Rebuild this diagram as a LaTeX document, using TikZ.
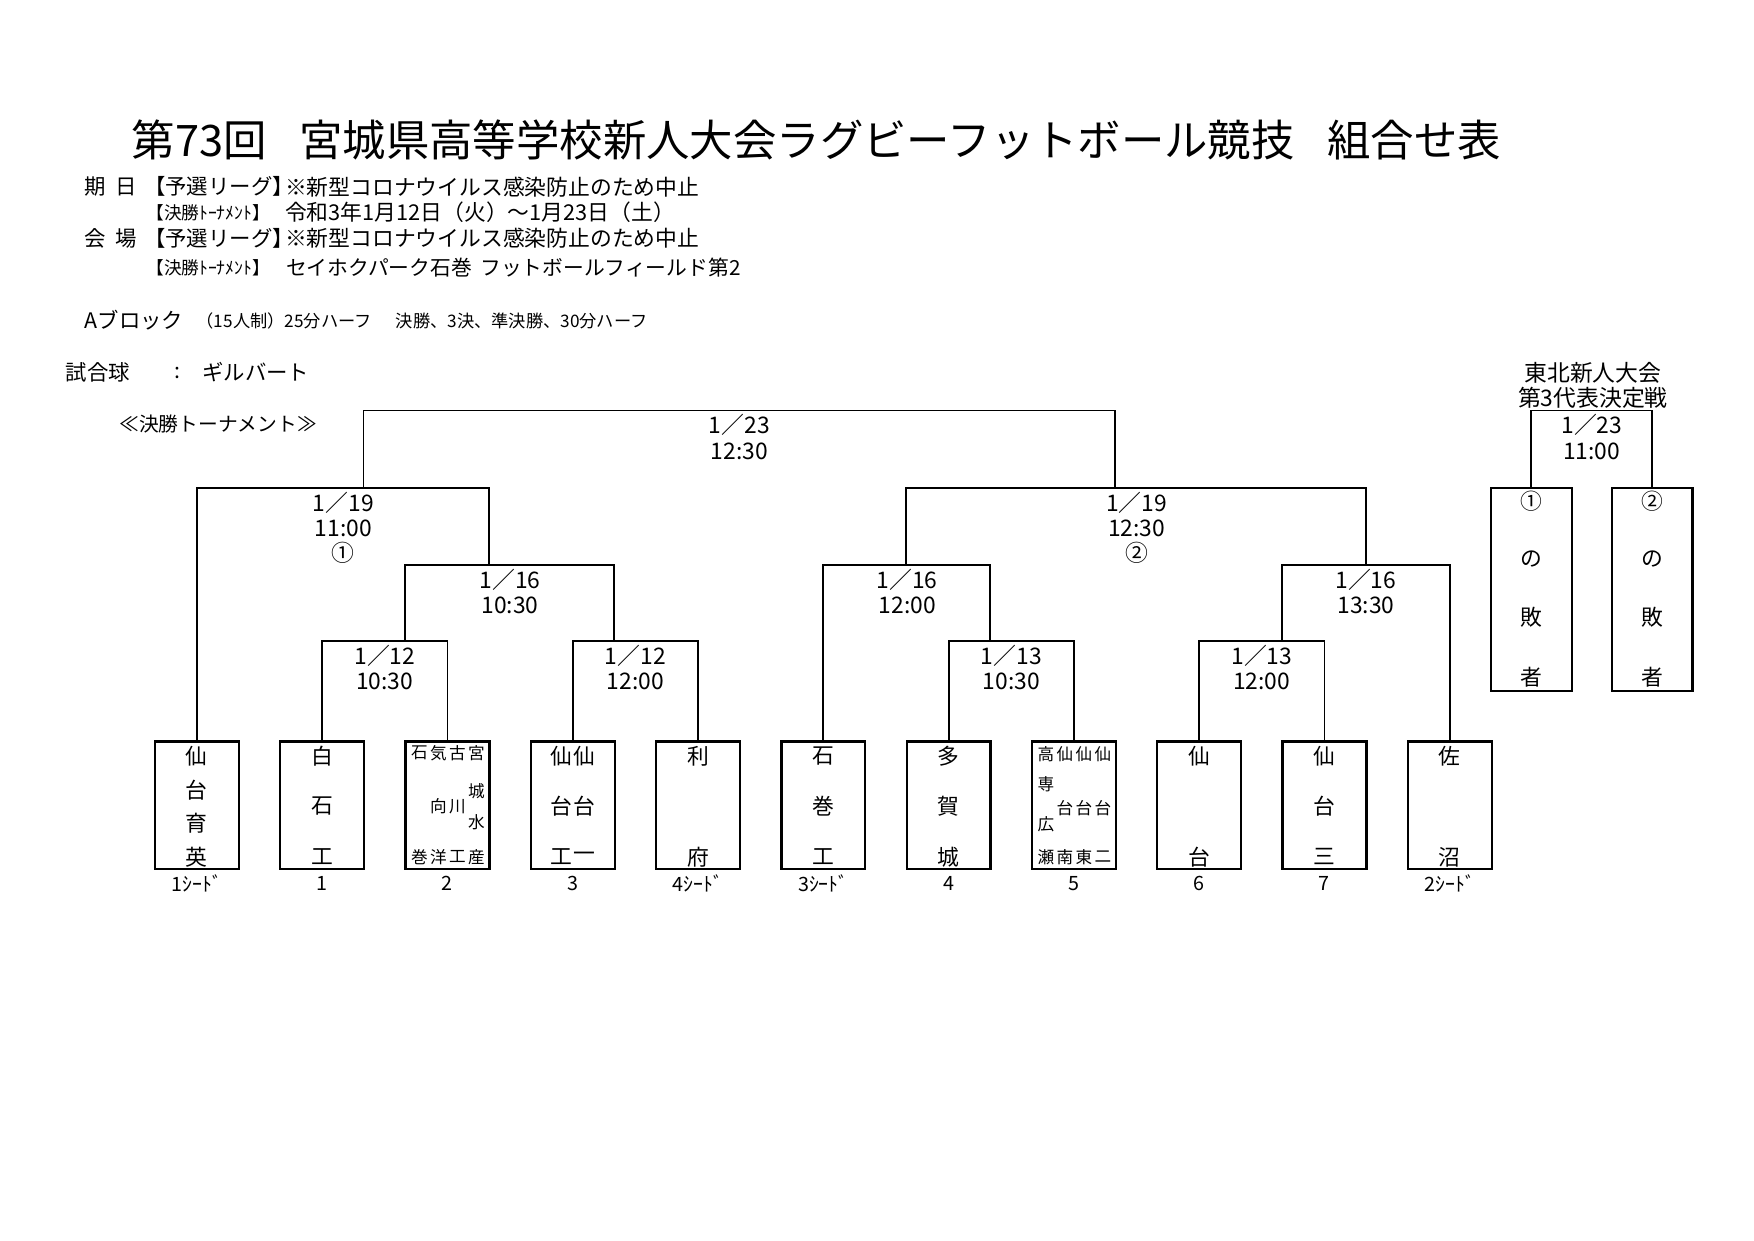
\documentclass[tikz,border=0pt]{standalone}
\usepackage{fontspec}
\setmainfont{Noto Sans CJK JP}

\tikzset{
  team/.style={draw,line width=1.1pt,minimum width=1.42cm,minimum height=2.16cm,inner sep=0pt},
  loser/.style={draw,line width=1.1pt,minimum width=1.364cm,minimum height=3.447cm,inner sep=0pt},
  game/.style={anchor=north,align=center,inner sep=1.5pt,font=\fontsize{11}{12.2}\selectfont},
  ch/.style={inner sep=0pt,font=\fontsize{10.5}{12}\selectfont},
  chs/.style={inner sep=0pt,font=\fontsize{8}{9}\selectfont},
  txt/.style={anchor=west,inner sep=0pt,font=\fontsize{10.3}{12}\selectfont},
  note/.style={anchor=west,inner sep=0pt,font=\fontsize{8.3}{9}\selectfont},
  sub/.style={anchor=west,inner sep=0pt,font=\fontsize{8.5}{9}\selectfont},
  seed/.style={inner sep=0pt,font=\fontsize{9.5}{11}\selectfont},
}

% vertical school names: box, style, char/dx/dy
\newcommand\tate[3]{%
  \foreach \moji/\dx/\dy [count=\k] in {#3}
    \node[#2] (#1-\k) at ([shift={(\dx,\dy)}]#1.center) {\moji};}

\begin{document}
\begin{tikzpicture}[x=0.018941cm,y=-0.018941cm,line width=0.9pt]
  \useasboundingbox (0,0) rectangle (1568,1109);

  % heading
  \node[anchor=west,inner sep=0pt,font=\fontsize{20.9}{24}\selectfont] (ttl) at (117,125)
    {第73回\hspace{.75em}宮城県高等学校新人大会ラグビーフットボール競技\hspace{.75em}組合せ表};
  \node[txt] (kij) at (75,167) {期\hspace{.45em}日};
  \node[txt] (yo1) at (128,167) {【予選リーグ】};
  \node[txt,font=\fontsize{10.5}{12}\selectfont] (cv1) at (254,167) {※新型コロナウイルス感染防止のため中止};
  \node[sub] (ke1) at (130,190) {【決勝ﾄｰﾅﾒﾝﾄ】};
  \node[txt,font=\fontsize{10.5}{12}\selectfont] (day) at (254,190) {令和3年1月12日（火）～1月23日（土）};
  \node[txt] (kai) at (75,213) {会\hspace{.45em}場};
  \node[txt] (yo2) at (128,213) {【予選リーグ】};
  \node[txt,font=\fontsize{10.5}{12}\selectfont] (cv2) at (254,213) {※新型コロナウイルス感染防止のため中止};
  \node[sub] (ke2) at (130,239) {【決勝ﾄｰﾅﾒﾝﾄ】};
  \node[txt,font=\fontsize{10}{12}\selectfont] (ven) at (255,239)
    {セイホクパーク石巻\hspace{.4em}フットボールフィールド第2};
  \node[txt] (blk) at (75,286) {Aブロック};
  \node[note] (ru1) at (175,287) {（15人制）25分ハーフ};
  \node[note] (ru2) at (353,287) {決勝、3決、準決勝、30分ハーフ};
  \node[txt] (bal) at (58,333) {試合球};
  \node[txt] (col) at (155,333) {:};
  \node[txt] (gil) at (180,333) {ギルバート};
  \node[txt,font=\fontsize{9.5}{11}\selectfont] (trn) at (106,379) {≪決勝トーナメント≫};
  \node[align=center,inner sep=0pt,font=\fontsize{11}{12.4}\selectfont] (thk) at (1424,344.5)
    {東北新人大会\\第3代表決定戦};

  % teams and seed numbers
  \foreach \x/\s [count=\i] in {176/1ｼｰﾄﾞ,288/1,400/2,512/3,624/4ｼｰﾄﾞ,736/3ｼｰﾄﾞ,
                                848/4,960/5,1072/6,1184/7,1296/2ｼｰﾄﾞ}{
    \node[team] (b\i) at (\x,720) {};
    \node[seed] (n\i) at (\x,790) {\s};
  }
  \tate{b1}{ch}{仙/0/-44,台/0/-14,育/0/16,英/0/46}
  \tate{b2}{ch}{白/0/-44,石/0/1,工/0/46}
  \tate{b3}{chs}{石/-25/-47,気/-8/-47,古/9/-47,宮/26/-47,向/-8/1,川/9/1,城/26/-13,
                 水/26/15,巻/-25/46,洋/-8/46,工/9/46,産/26/46}
  \tate{b4}{ch}{仙/-10/-44,仙/10/-44,台/-10/1,台/10/1,工/-10/46,一/10/46}
  \tate{b5}{ch}{利/0/-44,府/0/46}
  \tate{b6}{ch}{石/0/-44,巻/0/1,工/0/46}
  \tate{b7}{ch}{多/0/-44,賀/0/1,城/0/46}
  \tate{b8}{chs}{高/-25/-46,仙/-8/-46,仙/9/-46,仙/26/-46,専/-25/-19,台/-8/2,台/9/2,
                 台/26/2,広/-25/17,瀬/-25/46,南/-8/46,東/9/46,二/26/46}
  \tate{b9}{ch}{仙/0/-44,台/0/46}
  \tate{b10}{ch}{仙/0/-44,台/0/1,三/0/46}
  \tate{b11}{ch}{佐/0/-44,沼/0/46}

  % third place boxes
  \node[loser] (l1) at (1369,527) {};
  \node[loser] (l2) at (1477,527) {};
  \tate{l1}{ch}{①/0/-79,の/0/-27,敗/0/25,者/0/78}
  \tate{l2}{ch}{②/0/-79,の/0/-27,敗/0/25,者/0/78}

  % games
  \node[game] (r1) at (344,573) {1／12\\10:30};
  \node[game] (r2) at (568,573) {1／12\\12:00};
  \node[game] (r3) at (904,573) {1／13\\10:30};
  \node[game] (r4) at (1128,573) {1／13\\12:00};
  \node[game] (q1) at (456,505) {1／16\\10:30};
  \node[game] (q2) at (811,505) {1／16\\12:00};
  \node[game] (q3) at (1221,505) {1／16\\13:30};
  \node[game] (s1) at (307,436) {1／19\\11:00\\①};
  \node[game] (s2) at (1016,436) {1／19\\12:30\\②};
  \node[game] (f) at (661,367) {1／23\\12:30};
  \node[game] (tp) at (1423,367) {1／23\\11:00};

  % where upper legs meet lower lines
  \coordinate (q1a) at (362,573);
  \coordinate (q1b) at (549,573);
  \coordinate (q2b) at (885,573);
  \coordinate (q3a) at (1146,573);
  \coordinate (s1b) at (437,505);
  \coordinate (s2a) at (810,505);
  \coordinate (s2b) at (1221,505);
  \coordinate (fa) at (325,436);
  \coordinate (fb) at (997,436);

  \draw (b2.north) |- (r1.north) -| (b3.north);
  \draw (b4.north) |- (r2.north) -| (b5.north);
  \draw (b7.north) |- (r3.north) -| (b8.north);
  \draw (b9.north) |- (r4.north) -| (b10.north);
  \draw (q1a) |- (q1.north) -| (q1b);
  \draw (b6.north) |- (q2.north) -| (q2b);
  \draw (q3a) |- (q3.north) -| (b11.north);
  \draw (b1.north) |- (s1.north) -| (s1b);
  \draw (s2a) |- (s2.north) -| (s2b);
  \draw (fa) |- (f.north) -| (fb);
  \draw (l1.north) |- (tp.north) -| (l2.north);
\end{tikzpicture}
\end{document}
